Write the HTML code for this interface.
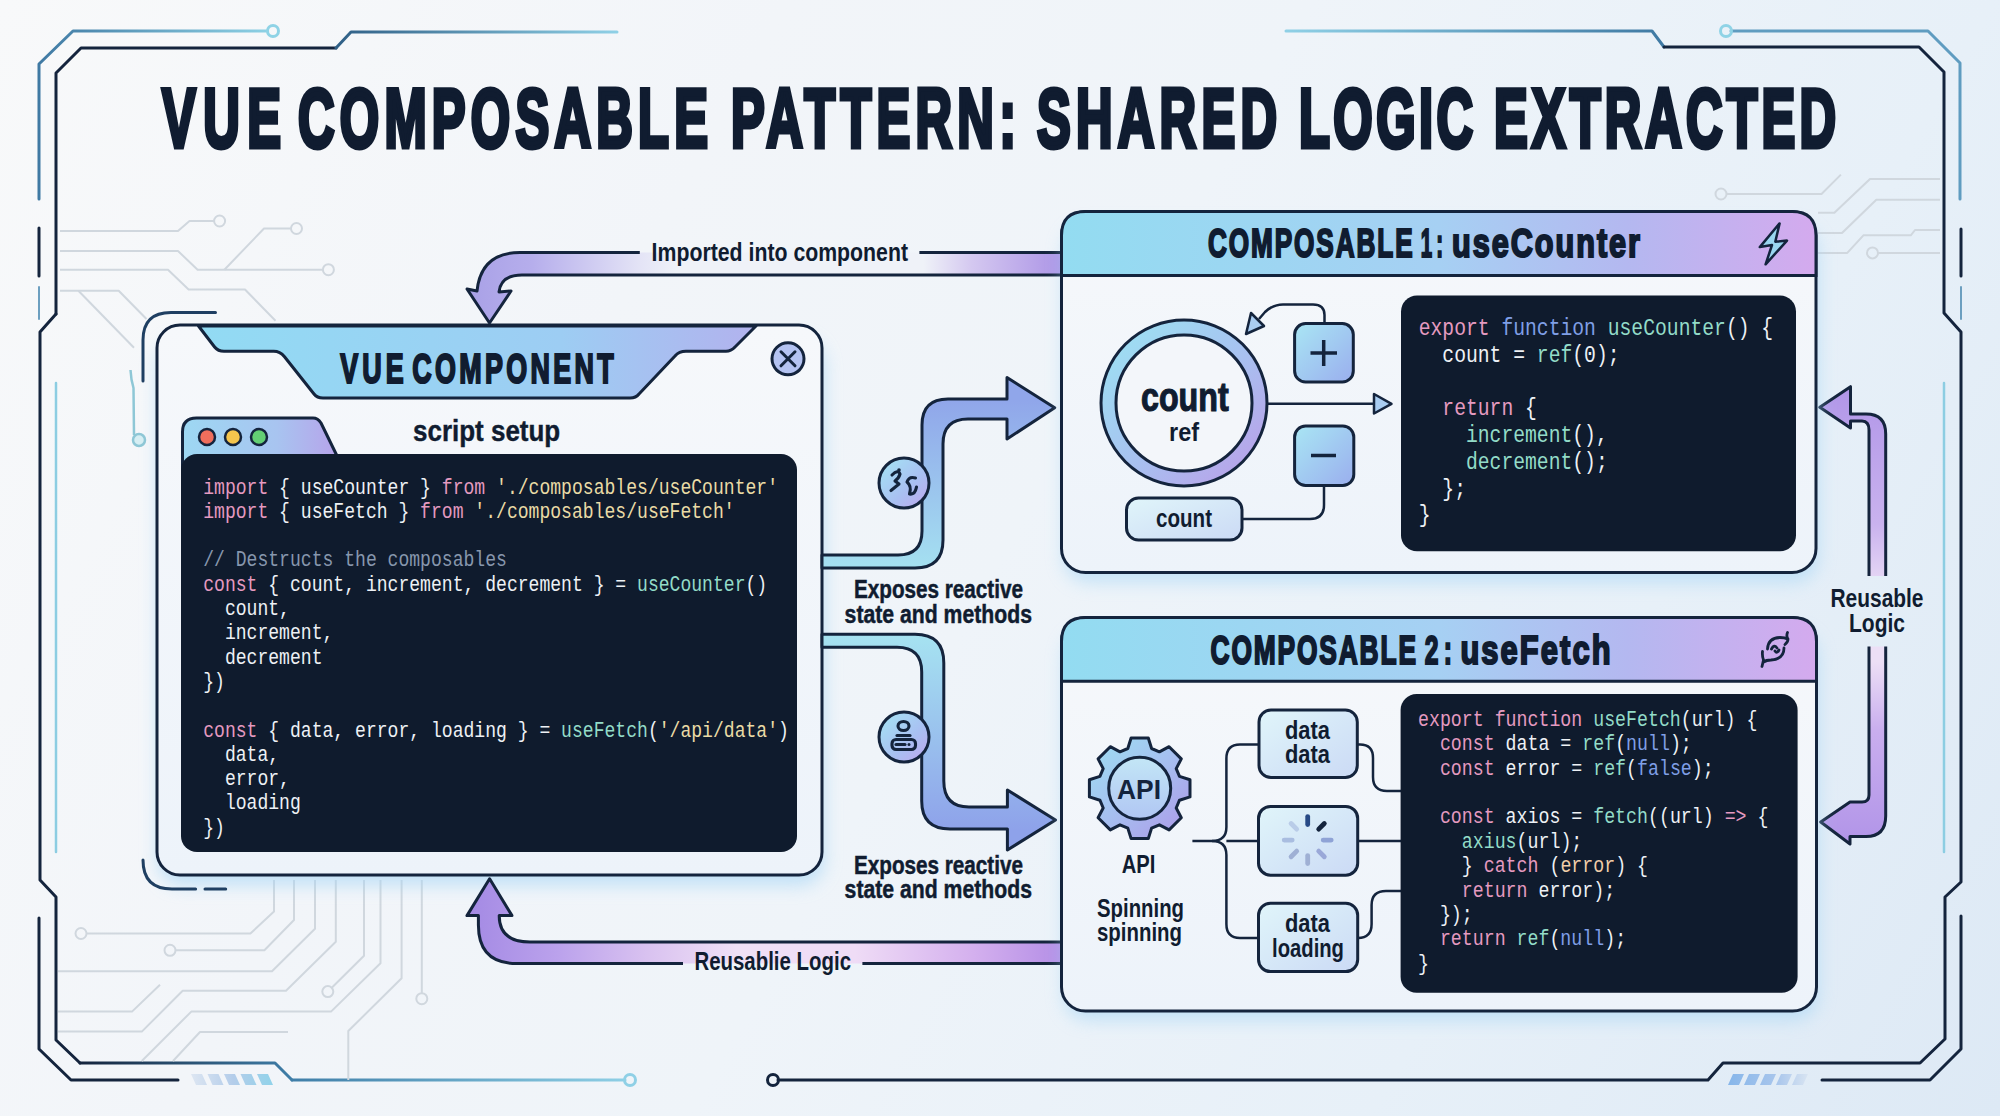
<!DOCTYPE html>
<html><head><meta charset="utf-8"><style>
html,body{margin:0;padding:0;width:2000px;height:1116px;overflow:hidden;background:#eef3f7;}
svg{display:block;}
</style></head><body>
<svg width="2000" height="1116" viewBox="0 0 2000 1116">
<defs>
 <linearGradient id="bg" gradientUnits="userSpaceOnUse" x1="0" y1="0" x2="2000" y2="1116">
  <stop offset="0" stop-color="#f8f9fa"/><stop offset="0.3" stop-color="#f2f5f9"/><stop offset="0.5" stop-color="#eff4f9"/><stop offset="0.76" stop-color="#e7f0f8"/><stop offset="1" stop-color="#dde9f5"/>
 </linearGradient>
 <radialGradient id="bgw" cx="0.45" cy="0.35" r="0.6">
  <stop offset="0" stop-color="#f8f9fb" stop-opacity="0.6"/><stop offset="1" stop-color="#f8f9fb" stop-opacity="0"/>
 </radialGradient>
 <linearGradient id="hdr" x1="0" y1="0" x2="1" y2="0">
  <stop offset="0" stop-color="#93dcf1"/><stop offset="0.5" stop-color="#a6d0f3"/><stop offset="0.75" stop-color="#b4b8f0"/><stop offset="1" stop-color="#d4aaee"/>
 </linearGradient>
 <linearGradient id="tab" x1="0" y1="0" x2="1" y2="0">
  <stop offset="0" stop-color="#92dbf3"/><stop offset="0.65" stop-color="#9dcdf3"/><stop offset="1" stop-color="#b2b2ee"/>
 </linearGradient>
 <linearGradient id="btab" x1="0" y1="0" x2="1" y2="0">
  <stop offset="0" stop-color="#9dd8f3"/><stop offset="0.6" stop-color="#a8c4f0"/><stop offset="1" stop-color="#b7a2ea"/>
 </linearGradient>
 <linearGradient id="bandU" gradientUnits="userSpaceOnUse" x1="0" y1="400" x2="0" y2="570">
  <stop offset="0" stop-color="#90a6ea"/><stop offset="1" stop-color="#a5e1f1"/>
 </linearGradient>
 <linearGradient id="bandL" gradientUnits="userSpaceOnUse" x1="0" y1="634" x2="0" y2="830">
  <stop offset="0" stop-color="#a6e3f1"/><stop offset="1" stop-color="#8ea2ea"/>
 </linearGradient>
 <linearGradient id="purpT" gradientUnits="userSpaceOnUse" x1="460" y1="0" x2="1062" y2="0">
  <stop offset="0" stop-color="#a79fe6"/><stop offset="0.12" stop-color="#b6aeec"/><stop offset="0.3" stop-color="#e4e4f6"/>
  <stop offset="0.36" stop-color="#eff2f8"/><stop offset="0.77" stop-color="#eff2f8"/><stop offset="0.85" stop-color="#d4c8f0"/><stop offset="1" stop-color="#ac94e6"/>
 </linearGradient>
 <linearGradient id="purpB" gradientUnits="userSpaceOnUse" x1="470" y1="0" x2="1062" y2="0">
  <stop offset="0" stop-color="#a48ae4"/><stop offset="0.15" stop-color="#bba2ec"/><stop offset="0.3" stop-color="#d9c2f0"/>
  <stop offset="0.45" stop-color="#efe0f6"/><stop offset="0.65" stop-color="#efdcf6"/><stop offset="0.85" stop-color="#d4b0ee"/><stop offset="1" stop-color="#b48ee6"/>
 </linearGradient>
 <linearGradient id="purpV" gradientUnits="userSpaceOnUse" x1="0" y1="387" x2="0" y2="845">
  <stop offset="0" stop-color="#b196e8"/><stop offset="0.3" stop-color="#c9b2ee"/><stop offset="0.45" stop-color="#ecdff6"/>
  <stop offset="0.6" stop-color="#ecdff6"/><stop offset="0.75" stop-color="#c9aeee"/><stop offset="1" stop-color="#b194e8"/>
 </linearGradient>
 <linearGradient id="ring" x1="0" y1="0" x2="1" y2="1">
  <stop offset="0" stop-color="#9ce3f3"/><stop offset="0.55" stop-color="#a8c0f0"/><stop offset="1" stop-color="#bb9ee8"/>
 </linearGradient>
 <linearGradient id="btn" x1="0" y1="0" x2="1" y2="1">
  <stop offset="0" stop-color="#a9e6f4"/><stop offset="1" stop-color="#9aaeee"/>
 </linearGradient>
 <linearGradient id="icon" x1="0" y1="0" x2="1" y2="1">
  <stop offset="0" stop-color="#a4e6f4"/><stop offset="0.6" stop-color="#a9bff2"/><stop offset="1" stop-color="#c0a6ee"/>
 </linearGradient>
 <linearGradient id="box" x1="0" y1="0" x2="1" y2="1">
  <stop offset="0" stop-color="#e0f5fa"/><stop offset="1" stop-color="#cbdaf5"/>
 </linearGradient>
 <linearGradient id="gear" x1="0" y1="0" x2="1" y2="1">
  <stop offset="0" stop-color="#9de0f3"/><stop offset="0.5" stop-color="#a6bff0"/><stop offset="1" stop-color="#ad97e8"/>
 </linearGradient>
 <linearGradient id="gearin" x1="0" y1="0" x2="0" y2="1">
  <stop offset="0" stop-color="#c3e6f6"/><stop offset="1" stop-color="#b0c6f3"/>
 </linearGradient>
 <linearGradient id="panel" x1="0" y1="0" x2="0" y2="1">
  <stop offset="0" stop-color="#f6f8fb"/><stop offset="1" stop-color="#edf3fa"/>
 </linearGradient>
 <linearGradient id="hatchL" gradientUnits="userSpaceOnUse" x1="191" y1="0" x2="275" y2="0">
  <stop offset="0" stop-color="#dde6f2"/><stop offset="0.5" stop-color="#b4cdea"/><stop offset="1" stop-color="#8fd3ea"/>
 </linearGradient>
 <linearGradient id="hatchR" gradientUnits="userSpaceOnUse" x1="1728" y1="0" x2="1810" y2="0">
  <stop offset="0" stop-color="#86b6ea"/><stop offset="0.6" stop-color="#a9c6ec"/><stop offset="1" stop-color="#dbe6f2"/>
 </linearGradient>
 <linearGradient id="fadeB" gradientUnits="userSpaceOnUse" x1="80" y1="0" x2="292" y2="0">
  <stop offset="0" stop-color="#14243d"/><stop offset="1" stop-color="#3f7ea8"/>
 </linearGradient>
 <linearGradient id="fadeL" gradientUnits="userSpaceOnUse" x1="292" y1="0" x2="630" y2="0">
  <stop offset="0" stop-color="#3f7ea8"/><stop offset="1" stop-color="#8fd0e6"/>
 </linearGradient>
 <linearGradient id="fadeT" gradientUnits="userSpaceOnUse" x1="336" y1="0" x2="617" y2="0">
  <stop offset="0" stop-color="#2f5f86"/><stop offset="1" stop-color="#8fd0e6"/>
 </linearGradient>
 <linearGradient id="fadeTL" gradientUnits="userSpaceOnUse" x1="39" y1="0" x2="273" y2="0">
  <stop offset="0" stop-color="#3f79a3"/><stop offset="1" stop-color="#8fd3e6"/>
 </linearGradient>
 <linearGradient id="fadeTR" gradientUnits="userSpaceOnUse" x1="1286" y1="0" x2="1664" y2="0">
  <stop offset="0" stop-color="#8fd0e6"/><stop offset="1" stop-color="#3f79a3"/>
 </linearGradient>
 <filter id="glow" x="-20%" y="-20%" width="140%" height="140%">
  <feGaussianBlur stdDeviation="9"/>
 </filter>
</defs>
<rect width="2000" height="1116" fill="url(#bg)"/>

<g fill="none" stroke-linecap="round" stroke-linejoin="round" stroke-width="3">
 <polyline points="39,199 39,64 73,31 267,31" stroke="url(#fadeTL)"/>
 <circle cx="273" cy="31" r="5.5" stroke="#8fd3e6"/>
 <polyline points="56,314 56,73 81,48 336,48" stroke="#14243d"/>
 <polyline points="336,48 351,32 617,32" stroke="url(#fadeT)"/>
 <line x1="39" y1="228" x2="39" y2="276" stroke="#14243d"/>
 <line x1="39" y1="287" x2="39" y2="319" stroke="#6c9fc0" stroke-width="2"/>
 <polyline points="56,314 40,332 40,880 56,897 56,1040 80,1063" stroke="#14243d"/>
 <polyline points="80,1063 275,1063 292,1080" stroke="url(#fadeB)"/>
 <line x1="292" y1="1080" x2="625" y2="1080" stroke="url(#fadeL)"/>
 <circle cx="630" cy="1080" r="5.5" stroke="#8fd0e6"/>
 <polyline points="39,918 39,1049 71,1080 178,1080" stroke="#14243d"/>
 <line x1="56" y1="383" x2="56" y2="852" stroke="#8ccde2" stroke-width="2.5"/>

 <polyline points="1286,31 1652,31 1664,47" stroke="url(#fadeTR)"/>
 <polyline points="1664,47 1919,47 1944,72 1944,313 1961,332 1961,882 1945,897 1945,1039 1920,1063 1723,1063 1708,1080 778,1080" stroke="#14243d"/>
 <circle cx="773" cy="1080" r="5.5" stroke="#14243d"/>
 <polyline points="1731,31 1928,31 1960,63 1960,199" stroke="#5f9cc0"/>
 <circle cx="1726" cy="31" r="5.5" stroke="#8fd3e6"/>
 <line x1="1961" y1="229" x2="1961" y2="276" stroke="#14243d"/>
 <line x1="1961" y1="287" x2="1961" y2="319" stroke="#6c9fc0" stroke-width="2"/>
 <polyline points="1822,1080 1930,1080 1961,1049 1961,916" stroke="#14243d"/>
 <line x1="1944" y1="383" x2="1944" y2="852" stroke="#8ccde2" stroke-width="2.5"/>
</g>

<g fill="url(#hatchL)"><polygon points="191.0,1074 202.0,1074 207.0,1085 196.0,1085"/><polygon points="207.5,1074 218.5,1074 223.5,1085 212.5,1085"/><polygon points="224.0,1074 235.0,1074 240.0,1085 229.0,1085"/><polygon points="240.5,1074 251.5,1074 256.5,1085 245.5,1085"/><polygon points="257.0,1074 268.0,1074 273.0,1085 262.0,1085"/></g>
<g fill="url(#hatchR)"><polygon points="1733.0,1074 1744.0,1074 1739.0,1085 1728.0,1085"/><polygon points="1749.0,1074 1760.0,1074 1755.0,1085 1744.0,1085"/><polygon points="1765.0,1074 1776.0,1074 1771.0,1085 1760.0,1085"/><polygon points="1781.0,1074 1792.0,1074 1787.0,1085 1776.0,1085"/><polygon points="1797.0,1074 1808.0,1074 1803.0,1085 1792.0,1085"/></g>
<g fill="none" stroke="#d0d7de" stroke-width="2" stroke-linejoin="round">
 <polyline points="60,231 178,231 189.5,221 214,221"/><circle cx="219.6" cy="221" r="5.5"/>
 <polyline points="60,251 178,251 197.6,269.7 323,269.7"/><circle cx="328.4" cy="269.7" r="5.5"/>
 <polyline points="224.4,269.7 264,228.5 291,228.5"/><circle cx="296.5" cy="228.5" r="5.5"/>
 <polyline points="60,269.7 168,269.7 188.6,289.5 245,289.5 275.5,320.8"/>
 <polyline points="60,290.7 118.7,290.7 146.5,319"/>
 <polyline points="78.4,290.7 134,347.7"/>

 <polyline points="274,880 274,911.6 250.4,933.5 86.5,933.5"/><circle cx="81" cy="933.5" r="5.5"/>
 <polyline points="294,880 294,920 264.4,950.3 175.5,950.3"/><circle cx="170" cy="950.3" r="5.5"/>
 <polyline points="315,880 315,928.8 272,971.2 58,971.2"/>
 <polyline points="335.8,880 335.8,941.7 286,990.8 182.7,990.8 141.8,1031.6 58,1031.6"/>
 <polyline points="364,880 364,955.7 331.5,988"/><circle cx="327.8" cy="991.6" r="5.5"/>
 <polyline points="380.5,880 380.5,963.2 331,1011.6 191.3,1011.6 141.8,1061"/>
 <polyline points="401.6,880 401.6,978.3 348.3,1031 348.3,1080"/>
 <polyline points="421.8,880 421.8,993"/><circle cx="421.8" cy="998.7" r="5.5"/>
 <polyline points="58,1011.6 132,1011.6 160,984.7"/>
 <polyline points="173,1061 200,1032 288,1032"/>

 <polyline points="1726.5,194 1821.5,194 1840.9,174.6"/><circle cx="1721" cy="194" r="5.5"/>
 <polyline points="1818,212.7 1834.4,212.7 1870,179 1940,179"/>
 <polyline points="1818,233 1842,233 1876.3,199.8 1940,199.8"/>
 <polyline points="1818,252.9 1847.3,252.9 1863.4,235.3 1910.8,235.3 1915,230 1940,230"/>
 <polyline points="1878,252.9 1940,252.9"/><circle cx="1872.5" cy="252.9" r="5.5"/>
</g>

<text transform="translate(162,146.6) scale(0.61,1)" x="0" y="0" style="font-family:'Liberation Sans',sans-serif" font-weight="bold" font-size="83" textLength="195.1" lengthAdjust="spacing" fill="#101c30" stroke="#101c30" stroke-width="5">VUE</text>
<text transform="translate(298,146.6) scale(0.61,1)" x="0" y="0" style="font-family:'Liberation Sans',sans-serif" font-weight="bold" font-size="83" textLength="672.1" lengthAdjust="spacing" fill="#101c30" stroke="#101c30" stroke-width="5">COMPOSABLE</text>
<text transform="translate(731,146.6) scale(0.61,1)" x="0" y="0" style="font-family:'Liberation Sans',sans-serif" font-weight="bold" font-size="83" textLength="467.2" lengthAdjust="spacing" fill="#101c30" stroke="#101c30" stroke-width="5">PATTERN:</text>
<text transform="translate(1037,146.6) scale(0.61,1)" x="0" y="0" style="font-family:'Liberation Sans',sans-serif" font-weight="bold" font-size="83" textLength="393.4" lengthAdjust="spacing" fill="#101c30" stroke="#101c30" stroke-width="5">SHARED</text>
<text transform="translate(1299,146.6) scale(0.61,1)" x="0" y="0" style="font-family:'Liberation Sans',sans-serif" font-weight="bold" font-size="83" textLength="285.2" lengthAdjust="spacing" fill="#101c30" stroke="#101c30" stroke-width="5">LOGIC</text>
<text transform="translate(1494,146.6) scale(0.61,1)" x="0" y="0" style="font-family:'Liberation Sans',sans-serif" font-weight="bold" font-size="83" textLength="560.7" lengthAdjust="spacing" fill="#101c30" stroke="#101c30" stroke-width="5">EXTRACTED</text>
<path d="M1062,252.5 L520,252.5 Q481,252.5 477,291 L467,289 L489.5,323 L511,291 L499,292 Q501,275 522,275 L1062,275 Z" fill="url(#purpT)"/>
<path d="M639.8,252.5 L520,252.5 Q481,252.5 477,291 L467,289 L489.5,323 L511,291 L499,292 Q501,275 522,275 L1062,275 M919.4,252.5 L1062,252.5" fill="none" stroke="#14243d" stroke-width="3" stroke-linejoin="round"/>

<text x="651.6" y="261.2" style="font-family:'Liberation Sans',sans-serif" font-weight="bold" font-size="26" textLength="256.4" lengthAdjust="spacingAndGlyphs" text-anchor="start" fill="#101c30">Imported into component</text>
<rect x="158" y="340" width="666" height="545" rx="24" fill="#a5d6f6" opacity="0.65" filter="url(#glow)"/>
<path d="M143,381 L143,340 Q143,312.4 171,312.4 L215.5,312.4" fill="none" stroke="#1f3f62" stroke-width="3" stroke-linecap="round"/>
<path d="M143,860 Q143,889 172,889 L195.6,889 M205,889 L225.7,889" fill="none" stroke="#1f3f62" stroke-width="3" stroke-linecap="round"/>
<path d="M130.5,370 Q131,380 133.5,388 L134,435" stroke="#8ec7d6" stroke-width="2.5" fill="none"/>
<circle cx="139" cy="440" r="6" fill="#d6eef3" stroke="#8ec7d6" stroke-width="2.5"/>
<rect x="157" y="325" width="665" height="550" rx="23" fill="url(#panel)" stroke="#14243d" stroke-width="3"/>
<path d="M198.5,326 L214.6,347 Q218,351.3 224,351.3 L273.7,351.3 Q280,351.3 284.5,356.7 L314,394 Q317,398 323,398 L630,398 Q636,398 639,394 L675,356 Q679,351.3 686,351.3 L726,351.3 Q731,351.3 735,347 L756,326 Z" fill="url(#tab)" stroke="#14243d" stroke-width="3" stroke-linejoin="round"/>

<text transform="translate(340.2,382.65) scale(0.64,1)" x="0" y="0" style="font-family:'Liberation Sans',sans-serif" font-weight="bold" font-size="42.01" textLength="99.2" lengthAdjust="spacing" fill="#101c30" stroke="#101c30" stroke-width="2.2">VUE</text>
<text transform="translate(412.2,382.65) scale(0.64,1)" x="0" y="0" style="font-family:'Liberation Sans',sans-serif" font-weight="bold" font-size="42.01" textLength="314.8" lengthAdjust="spacing" fill="#101c30" stroke="#101c30" stroke-width="2.2">COMPONENT</text>
<circle cx="788" cy="358.8" r="16" fill="#b4c3f2" stroke="#14243d" stroke-width="3"/>
<path d="M781,351.8 L795,365.8 M795,351.8 L781,365.8" stroke="#14243d" stroke-width="3" stroke-linecap="round"/>
<path d="M182.5,470 L182.5,432 Q182.5,418 196.5,418 L313,418 Q318,418 321,423 L340,462 L182.5,470 Z" fill="url(#btab)" stroke="#14243d" stroke-width="3" stroke-linejoin="round"/>
<circle cx="207" cy="437" r="8" fill="#ef6e5c" stroke="#14243d" stroke-width="2.5"/>
<circle cx="233" cy="437" r="8" fill="#f4c54d" stroke="#14243d" stroke-width="2.5"/>
<circle cx="259" cy="437" r="8" fill="#63cf74" stroke="#14243d" stroke-width="2.5"/>

<text x="413" y="440.5" style="font-family:'Liberation Sans',sans-serif" font-weight="bold" font-size="29" textLength="147.2" lengthAdjust="spacingAndGlyphs" text-anchor="start" fill="#101c30" stroke="#101c30" stroke-width="0.4">script setup</text>
<rect x="181" y="454" width="616" height="398" rx="16" fill="#0f1b2d"/>
<g transform="translate(203.2,0) scale(0.822,1)" style="font-family:'Liberation Mono',monospace;white-space:pre" font-size="22">
<text x="0.00" y="493.6"><tspan fill="#e59ac0">import</tspan><tspan fill="#edf1f5"> { useCounter } </tspan><tspan fill="#e59ac0">from</tspan><tspan fill="#eadba6"> './composables/useCounter'</tspan></text>
<text x="0.00" y="517.9"><tspan fill="#e59ac0">import</tspan><tspan fill="#edf1f5"> { useFetch } </tspan><tspan fill="#e59ac0">from</tspan><tspan fill="#eadba6"> './composables/useFetch'</tspan></text>
<text x="0.00" y="566.5"><tspan fill="#8797ad">// Destructs the composables</tspan></text>
<text x="0.00" y="590.8"><tspan fill="#e59ac0">const</tspan><tspan fill="#edf1f5"> { count, increment, decrement } = </tspan><tspan fill="#93dcc8">useCounter</tspan><tspan fill="#edf1f5">()</tspan></text>
<text x="26.40" y="615.1"><tspan fill="#edf1f5">count,</tspan></text>
<text x="26.40" y="639.4"><tspan fill="#edf1f5">increment,</tspan></text>
<text x="26.40" y="663.7"><tspan fill="#edf1f5">decrement</tspan></text>
<text x="0.00" y="688.0"><tspan fill="#edf1f5">})</tspan></text>
<text x="0.00" y="736.6"><tspan fill="#e59ac0">const</tspan><tspan fill="#edf1f5"> { data, error, loading } = </tspan><tspan fill="#93dcc8">useFetch</tspan><tspan fill="#edf1f5">(</tspan><tspan fill="#eadba6">'/api/data'</tspan><tspan fill="#edf1f5">)</tspan></text>
<text x="26.40" y="760.9"><tspan fill="#edf1f5">data,</tspan></text>
<text x="26.40" y="785.2"><tspan fill="#edf1f5">error,</tspan></text>
<text x="26.40" y="809.5"><tspan fill="#edf1f5">loading</tspan></text>
<text x="0.00" y="833.8"><tspan fill="#edf1f5">})</tspan></text>
</g>
<path d="M822,555 L898,555 Q922,555 922,531 L922,425 Q922,399 948,399 L1007,399 L1007,377.6 L1054.7,407.7 L1007,439 L1007,419 L968,419 Q943,419 943,444 L943,540 Q943,568 915,568 L822,568 Z" fill="url(#bandU)" stroke="#14243d" stroke-width="3" stroke-linejoin="round"/>
<path d="M822,634.3 L915,634.3 Q943.8,634.3 943.8,663 L943.8,781 Q943.8,807 969,807 L1007.4,807 L1007.4,790 L1055.5,820 L1007.4,850 L1007.4,829 L950,829 Q921.7,829 921.7,801 L921.7,672 Q921.7,647.3 897,647.3 L822,647.3 Z" fill="url(#bandL)" stroke="#14243d" stroke-width="3" stroke-linejoin="round"/>
<circle cx="904" cy="483" r="25" fill="url(#icon)" stroke="#14243d" stroke-width="3"/>
<g fill="none" stroke="#14243d" stroke-width="3.1" stroke-linecap="round" stroke-linejoin="round">
 <path d="M892,475 Q898,469 900,474 Q899,478 895,481 L899,484 L891,490.5"/>
 <path d="M915.5,478 Q909,476 907,482 Q912,486 909.5,494 Q915,495 916.5,487"/>
</g>
<circle cx="899" cy="470" r="1.8" fill="#14243d"/>
<circle cx="904" cy="737" r="25" fill="url(#icon)" stroke="#14243d" stroke-width="3"/>
<g fill="none" stroke="#14243d" stroke-width="3.1" stroke-linecap="round" stroke-linejoin="round">
 <ellipse cx="903.5" cy="726" rx="5.5" ry="4.5"/>
 <path d="M897,735.5 L910,735.5"/>
 <rect x="892" y="739.5" width="23.5" height="10" rx="4"/>
 <path d="M896,744.5 L905,744.5"/>
</g>
<circle cx="909" cy="744.5" r="1.5" fill="#14243d"/>

<text x="854" y="598" style="font-family:'Liberation Sans',sans-serif" font-weight="bold" font-size="26" textLength="169" lengthAdjust="spacingAndGlyphs" text-anchor="start" fill="#101c30" stroke="#101c30" stroke-width="0.5">Exposes reactive</text>
<text x="844.6" y="623" style="font-family:'Liberation Sans',sans-serif" font-weight="bold" font-size="26" textLength="187.4" lengthAdjust="spacingAndGlyphs" text-anchor="start" fill="#101c30" stroke="#101c30" stroke-width="0.5">state and methods</text>
<text x="854" y="873.5" style="font-family:'Liberation Sans',sans-serif" font-weight="bold" font-size="26" textLength="169" lengthAdjust="spacingAndGlyphs" text-anchor="start" fill="#101c30" stroke="#101c30" stroke-width="0.5">Exposes reactive</text>
<text x="844.6" y="897.6" style="font-family:'Liberation Sans',sans-serif" font-weight="bold" font-size="26" textLength="187.4" lengthAdjust="spacingAndGlyphs" text-anchor="start" fill="#101c30" stroke="#101c30" stroke-width="0.5">state and methods</text>
<path d="M1062,942 L530,942 Q499.2,942 499.2,915.6 L512,915.6 L489.6,878.8 L467,915.6 L478.4,915.6 L478.4,925 Q478.4,963.6 517,963.6 L1062,963.6 Z" fill="url(#purpB)"/>
<path d="M1062,942 L530,942 Q499.2,942 499.2,915.6 L512,915.6 L489.6,878.8 L467,915.6 L478.4,915.6 L478.4,925 Q478.4,963.6 517,963.6 L683,963.6 M862.4,963.6 L1062,963.6" fill="none" stroke="#14243d" stroke-width="3" stroke-linejoin="round"/>

<text x="694.4" y="970" style="font-family:'Liberation Sans',sans-serif" font-weight="bold" font-size="26" textLength="156.6" lengthAdjust="spacingAndGlyphs" text-anchor="start" fill="#101c30">Reusablie Logic</text>
<clipPath id="gapR"><rect x="1800" y="300" width="120" height="276"/><rect x="1800" y="646.4" width="120" height="250"/></clipPath>
<path clip-path="url(#gapR)" d="M1850.5,386.7 L1819.8,407.3 L1850.5,428 L1850.5,421 L1862,421 Q1869,421 1869,430 L1869,795 Q1869,802 1862,802 L1850,802 L1850,802 L1820.7,822 L1850,844 L1850,836.5 L1866,836.5 Q1885.7,836.5 1885.7,816 L1885.7,434 Q1885.7,414 1866,414 L1850.5,414 Z" fill="url(#purpV)"/>
<path d="M1869,576 L1869,430 Q1869,421 1862,421 L1850.5,421 L1850.5,428 L1819.8,407.3 L1850.5,386.7 L1850.5,414 L1866,414 Q1885.7,414 1885.7,434 L1885.7,576 M1869,646.4 L1869,795 Q1869,802 1862,802 L1850,802 L1820.7,822 L1850,844 L1850,836.5 L1866,836.5 Q1885.7,836.5 1885.7,816 L1885.7,646.4" fill="none" stroke="#14243d" stroke-width="3" stroke-linejoin="round"/>

<text x="1830.5" y="607" style="font-family:'Liberation Sans',sans-serif" font-weight="bold" font-size="26" textLength="93" lengthAdjust="spacingAndGlyphs" text-anchor="start" fill="#101c30">Reusable</text>
<text x="1849" y="632.4" style="font-family:'Liberation Sans',sans-serif" font-weight="bold" font-size="26" textLength="56" lengthAdjust="spacingAndGlyphs" text-anchor="start" fill="#101c30">Logic</text>
<rect x="1064" y="226" width="754" height="356" rx="24" fill="#a5d6f6" opacity="0.6" filter="url(#glow)"/>
<rect x="1061.5" y="211.5" width="754.5" height="361" rx="24" fill="url(#panel)" stroke="#14243d" stroke-width="3"/>
<path d="M1061.5,275.4 L1061.5,235.5 Q1061.5,211.5 1085.5,211.5 L1792,211.5 Q1816,211.5 1816,235.5 L1816,275.4 Z" fill="url(#hdr)" stroke="#14243d" stroke-width="3"/>

<text transform="translate(1208,257.45) scale(0.64,1)" x="0" y="0" style="font-family:'Liberation Sans',sans-serif" font-weight="bold" font-size="40.84" textLength="319.8" lengthAdjust="spacing" fill="#101c30" stroke="#101c30" stroke-width="2.2">COMPOSABLE</text>
<text transform="translate(1420.8,257.45) scale(0.5,1)" x="0" y="0" style="font-family:'Liberation Sans',sans-serif" font-weight="bold" font-size="40.84" textLength="44.4" lengthAdjust="spacing" fill="#101c30" stroke="#101c30" stroke-width="2.2">1:</text>
<text transform="translate(1452,257.45) scale(0.75,1)" x="0" y="0" style="font-family:'Liberation Sans',sans-serif" font-weight="bold" font-size="40.84" textLength="250.7" lengthAdjust="spacing" fill="#101c30" stroke="#101c30" stroke-width="2.2">useCounter</text>
<path d="M1779.6,223.4 L1759.8,247.1 L1772,245 L1765.6,264.3 L1787,240.6 L1775.3,241.7 Z" fill="#9ad6f0" stroke="#14243d" stroke-width="2.5" stroke-linejoin="round"/>
<circle cx="1184" cy="403" r="76" fill="none" stroke="url(#ring)" stroke-width="15"/>
<circle cx="1184" cy="403" r="83" fill="none" stroke="#14243d" stroke-width="3"/>
<circle cx="1184" cy="403" r="68" fill="#f3f6fa" stroke="#14243d" stroke-width="3"/>

<text x="1141" y="410.6" style="font-family:'Liberation Sans',sans-serif" font-weight="bold" font-size="40" textLength="87.6" lengthAdjust="spacingAndGlyphs" text-anchor="start" fill="#101c30" stroke="#101c30" stroke-width="1.2">count</text>
<text x="1169" y="441" style="font-family:'Liberation Sans',sans-serif" font-weight="bold" font-size="26" textLength="30" lengthAdjust="spacingAndGlyphs" text-anchor="start" fill="#101c30">ref</text>
<rect x="1294.6" y="323.6" width="58.7" height="58.4" rx="11" fill="url(#btn)" stroke="#14243d" stroke-width="3"/>
<path d="M1323.7,340 L1323.7,366 M1310.5,353 L1337,353" stroke="#14243d" stroke-width="3.5"/>
<rect x="1294.6" y="426" width="59.2" height="59.5" rx="11" fill="url(#btn)" stroke="#14243d" stroke-width="3"/>
<path d="M1311,455.5 L1336,455.5" stroke="#14243d" stroke-width="3.5"/>
<path d="M1324.5,323 L1324.5,315 Q1324.5,304.4 1313,304.4 L1283,304.4 Q1273,304.4 1265,312 L1259,319" fill="none" stroke="#14243d" stroke-width="2.5"/>
<path d="M1246,334 L1251,313 L1264,326 Z" fill="#a9cdf2" stroke="#14243d" stroke-width="2.5" stroke-linejoin="round"/>
<path d="M1268,403.8 L1375,403.8" stroke="#14243d" stroke-width="2.5"/>
<path d="M1391.5,403.8 L1374,394 L1374,413.5 Z" fill="#a9cdf2" stroke="#14243d" stroke-width="2.5" stroke-linejoin="round"/>
<path d="M1242,519 L1310,519 Q1324,519 1324,505 L1324,485.5" fill="none" stroke="#14243d" stroke-width="2.5"/>
<rect x="1126.5" y="498" width="115.5" height="42" rx="12" fill="url(#box)" stroke="#14243d" stroke-width="3"/>

<text x="1156" y="527" style="font-family:'Liberation Sans',sans-serif" font-weight="bold" font-size="25" textLength="56" lengthAdjust="spacingAndGlyphs" text-anchor="start" fill="#101c30">count</text>
<rect x="1401" y="295.6" width="395" height="255.7" rx="16" fill="#0f1b2d"/>
<g transform="translate(1418.7,0) scale(0.838,1)" style="font-family:'Liberation Mono',monospace;white-space:pre" font-size="23.5">
<text x="0.00" y="335.2"><tspan fill="#e59ac0">export</tspan><tspan fill="#edf1f5"> </tspan><tspan fill="#7f9fe6">function</tspan><tspan fill="#edf1f5"> </tspan><tspan fill="#93dcc8">useCounter</tspan><tspan fill="#edf1f5">() {</tspan></text>
<text x="28.20" y="361.9"><tspan fill="#edf1f5">count = </tspan><tspan fill="#93dcc8">ref</tspan><tspan fill="#edf1f5">(0);</tspan></text>
<text x="28.20" y="415.4"><tspan fill="#e59ac0">return</tspan><tspan fill="#edf1f5"> {</tspan></text>
<text x="56.40" y="442.2"><tspan fill="#93dcc8">increment</tspan><tspan fill="#edf1f5">(),</tspan></text>
<text x="56.40" y="468.9"><tspan fill="#93dcc8">decrement</tspan><tspan fill="#edf1f5">();</tspan></text>
<text x="28.20" y="495.7"><tspan fill="#edf1f5">};</tspan></text>
<text x="0.00" y="522.5"><tspan fill="#edf1f5">}</tspan></text>
</g>
<rect x="1064" y="632" width="754" height="388" rx="24" fill="#a5d6f6" opacity="0.6" filter="url(#glow)"/>
<rect x="1061.5" y="617.5" width="755" height="393.5" rx="24" fill="url(#panel)" stroke="#14243d" stroke-width="3"/>
<path d="M1061.5,681.3 L1061.5,641.5 Q1061.5,617.5 1085.5,617.5 L1792.5,617.5 Q1816.5,617.5 1816.5,641.5 L1816.5,681.3 Z" fill="url(#hdr)" stroke="#14243d" stroke-width="3"/>

<text transform="translate(1210.5,664.15) scale(0.64,1)" x="0" y="0" style="font-family:'Liberation Sans',sans-serif" font-weight="bold" font-size="41.13" textLength="321.1" lengthAdjust="spacing" fill="#101c30" stroke="#101c30" stroke-width="2.2">COMPOSABLE</text>
<text transform="translate(1424.7,664.15) scale(0.6,1)" x="0" y="0" style="font-family:'Liberation Sans',sans-serif" font-weight="bold" font-size="41.13" textLength="45.5" lengthAdjust="spacing" fill="#101c30" stroke="#101c30" stroke-width="2.2">2:</text>
<text transform="translate(1460.4,664.15) scale(0.75,1)" x="0" y="0" style="font-family:'Liberation Sans',sans-serif" font-weight="bold" font-size="41.13" textLength="200.1" lengthAdjust="spacing" fill="#101c30" stroke="#101c30" stroke-width="2.2">useFetch</text>
<g fill="none" stroke="#14243d" stroke-width="2.8" stroke-linecap="round" stroke-linejoin="round">
 <path d="M1767.5,649 Q1768,638 1780,637.5 Q1785,637.5 1787.5,639 M1787.5,632.5 Q1786,636 1788,639 Q1788,642 1785,644.5"/>
 <path d="M1784,648 Q1784,659 1771,660 Q1766,660 1764,662 M1762.5,651.5 Q1762,656 1763.5,660 L1762,666.5"/>
 <path d="M1771.5,649 Q1774,644 1777,648 M1775,651 Q1777,654 1779,650"/>
</g>
<g fill="none" stroke="#14243d" stroke-width="2.5">
 <path d="M1192.4,841 L1212,841 Q1226.4,841 1226.4,827 L1226.4,758.5 Q1226.4,744.5 1240,744.5 L1259,744.5"/>
 <path d="M1212,841 Q1226.4,841 1226.4,855 L1226.4,924 Q1226.4,938 1240,938 L1259,938"/>
 <path d="M1226.4,841 L1259,841 M1357.5,841 L1401,841"/>
 <path d="M1357.3,744.5 L1360,744.5 Q1373,744.5 1373,758 L1373,777 Q1373,791 1387,791 L1401,791"/>
 <path d="M1357.5,938 L1358,938 Q1371.6,938 1371.6,924 L1371.6,905 Q1371.6,891 1386,891 L1401,891"/>
</g>
<rect x="1259" y="710" width="98.3" height="67.5" rx="12" fill="url(#box)" stroke="#14243d" stroke-width="3"/>
<rect x="1258.5" y="806.4" width="99.2" height="68.8" rx="12" fill="url(#box)" stroke="#14243d" stroke-width="3"/>
<rect x="1258.5" y="903.2" width="99.2" height="68.4" rx="12" fill="url(#box)" stroke="#14243d" stroke-width="3"/>

<line x1="1307.7" y1="824.6" x2="1307.7" y2="816.6" stroke="#274a86" stroke-width="4.8" stroke-linecap="round"/>
<line x1="1318.7" y1="829.1" x2="1324.3" y2="823.5" stroke="#14243d" stroke-width="4.8" stroke-linecap="round"/>
<line x1="1323.2" y1="840.1" x2="1331.2" y2="840.1" stroke="#8fa3d6" stroke-width="4.8" stroke-linecap="round"/>
<line x1="1318.7" y1="851.1" x2="1324.3" y2="856.7" stroke="#9aa8d8" stroke-width="4.8" stroke-linecap="round"/>
<line x1="1307.7" y1="855.6" x2="1307.7" y2="863.6" stroke="#9fb0d4" stroke-width="4.8" stroke-linecap="round"/>
<line x1="1296.7" y1="851.1" x2="1291.1" y2="856.7" stroke="#9fb0d4" stroke-width="4.8" stroke-linecap="round"/>
<line x1="1292.2" y1="840.1" x2="1284.2" y2="840.1" stroke="#a9bde0" stroke-width="4.8" stroke-linecap="round"/>
<line x1="1296.7" y1="829.1" x2="1291.1" y2="823.5" stroke="#b9cce8" stroke-width="4.8" stroke-linecap="round"/>
<text x="1285" y="738.6" style="font-family:'Liberation Sans',sans-serif" font-weight="bold" font-size="25" textLength="45" lengthAdjust="spacingAndGlyphs" text-anchor="start" fill="#101c30">data</text>
<text x="1285" y="763" style="font-family:'Liberation Sans',sans-serif" font-weight="bold" font-size="25" textLength="45" lengthAdjust="spacingAndGlyphs" text-anchor="start" fill="#101c30">data</text>
<text x="1285" y="932.4" style="font-family:'Liberation Sans',sans-serif" font-weight="bold" font-size="25" textLength="45" lengthAdjust="spacingAndGlyphs" text-anchor="start" fill="#101c30">data</text>
<text x="1272" y="957" style="font-family:'Liberation Sans',sans-serif" font-weight="bold" font-size="25" textLength="72" lengthAdjust="spacingAndGlyphs" text-anchor="start" fill="#101c30">loading</text>
<polygon points="1127.8,748.5 1131.1,738.0 1148.3,738.0 1151.6,748.5 1159.4,751.8 1169.1,746.7 1181.3,758.9 1176.2,768.6 1179.5,776.4 1190.0,779.7 1190.0,796.9 1179.5,800.2 1176.2,808.0 1181.3,817.7 1169.1,829.9 1159.4,824.8 1151.6,828.1 1148.3,838.6 1131.1,838.6 1127.8,828.1 1120.0,824.8 1110.3,829.9 1098.1,817.7 1103.2,808.0 1099.9,800.2 1089.4,796.9 1089.4,779.7 1099.9,776.4 1103.2,768.6 1098.1,758.9 1110.3,746.7 1120.0,751.8" fill="url(#gear)" stroke="#14243d" stroke-width="3" stroke-linejoin="round"/>
<circle cx="1139.7" cy="788.3" r="31" fill="url(#gearin)" stroke="#14243d" stroke-width="3"/>
<text x="1117" y="798.5" style="font-family:'Liberation Sans',sans-serif" font-weight="bold" font-size="28" textLength="44" lengthAdjust="spacingAndGlyphs" fill="#14243d">API</text>
<text x="1121.8" y="873" style="font-family:'Liberation Sans',sans-serif" font-weight="bold" font-size="26" textLength="33.6" lengthAdjust="spacingAndGlyphs" text-anchor="start" fill="#101c30">API</text>
<text x="1097" y="916.7" style="font-family:'Liberation Sans',sans-serif" font-weight="bold" font-size="26" textLength="87" lengthAdjust="spacingAndGlyphs" text-anchor="start" fill="#101c30">Spinning</text>
<text x="1097" y="941.3" style="font-family:'Liberation Sans',sans-serif" font-weight="bold" font-size="26" textLength="85" lengthAdjust="spacingAndGlyphs" text-anchor="start" fill="#101c30">spinning</text>
<rect x="1400.6" y="694" width="397" height="298.7" rx="16" fill="#0f1b2d"/>
<g transform="translate(1418,0) scale(0.83,1)" style="font-family:'Liberation Mono',monospace;white-space:pre" font-size="22">
<text x="0.00" y="725.8"><tspan fill="#e59ac0">export function</tspan><tspan fill="#edf1f5"> </tspan><tspan fill="#93dcc8">useFetch</tspan><tspan fill="#edf1f5">(url) {</tspan></text>
<text x="26.40" y="750.2"><tspan fill="#e59ac0">const</tspan><tspan fill="#edf1f5"> data = </tspan><tspan fill="#93dcc8">ref</tspan><tspan fill="#edf1f5">(</tspan><tspan fill="#7f9fe6">null</tspan><tspan fill="#edf1f5">);</tspan></text>
<text x="26.40" y="774.6"><tspan fill="#e59ac0">const</tspan><tspan fill="#edf1f5"> error = </tspan><tspan fill="#93dcc8">ref</tspan><tspan fill="#edf1f5">(</tspan><tspan fill="#7f9fe6">false</tspan><tspan fill="#edf1f5">);</tspan></text>
<text x="26.40" y="823.4"><tspan fill="#e59ac0">const</tspan><tspan fill="#edf1f5"> axios = </tspan><tspan fill="#93dcc8">fetch</tspan><tspan fill="#edf1f5">((url) </tspan><tspan fill="#e59ac0">=&gt;</tspan><tspan fill="#edf1f5"> {</tspan></text>
<text x="52.80" y="847.8"><tspan fill="#93dcc8">axius</tspan><tspan fill="#edf1f5">(url);</tspan></text>
<text x="52.80" y="872.2"><tspan fill="#edf1f5">} </tspan><tspan fill="#e59ac0">catch</tspan><tspan fill="#edf1f5"> (</tspan><tspan fill="#f0cda9">error</tspan><tspan fill="#edf1f5">) {</tspan></text>
<text x="52.80" y="896.6"><tspan fill="#e59ac0">return</tspan><tspan fill="#edf1f5"> error);</tspan></text>
<text x="26.40" y="921.0"><tspan fill="#edf1f5">});</tspan></text>
<text x="26.40" y="945.4"><tspan fill="#e59ac0">return</tspan><tspan fill="#edf1f5"> </tspan><tspan fill="#93dcc8">ref</tspan><tspan fill="#edf1f5">(</tspan><tspan fill="#7f9fe6">null</tspan><tspan fill="#edf1f5">);</tspan></text>
<text x="0.00" y="969.8"><tspan fill="#edf1f5">}</tspan></text>
</g>
</svg></body></html>
